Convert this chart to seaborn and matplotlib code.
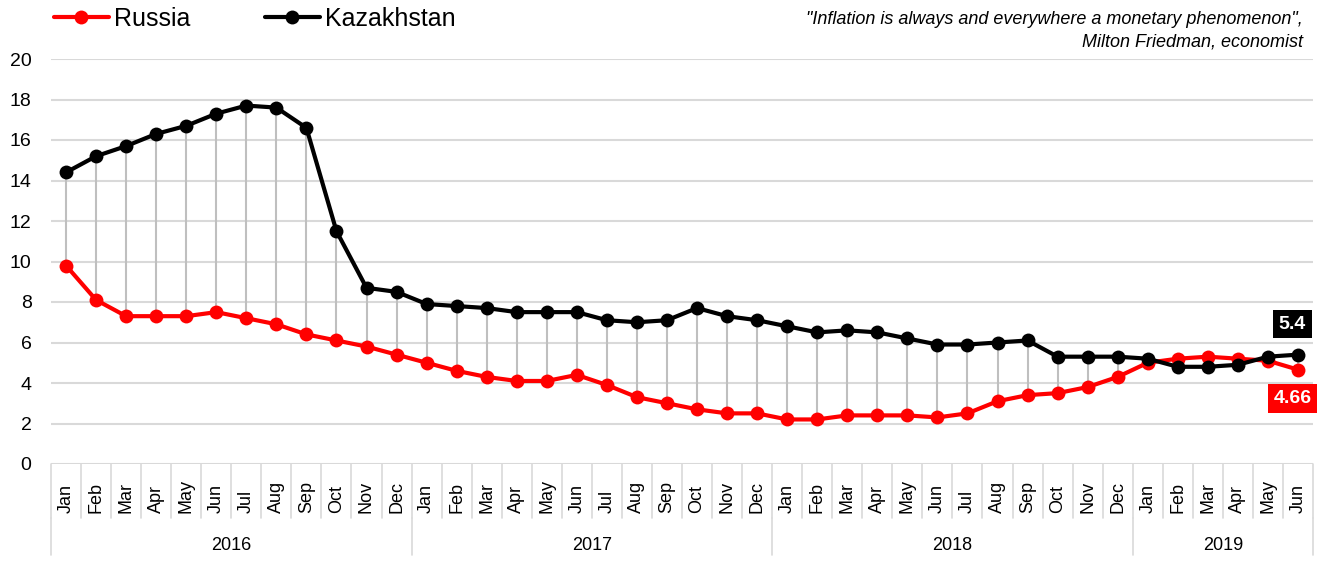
import numpy as np
import pandas as pd
import seaborn as sns
import matplotlib.pyplot as plt

# data
months = ["Jan", "Feb", "Mar", "Apr", "May", "Jun", "Jul", "Aug", "Sep", "Oct", "Nov", "Dec"]
years = ["2016", "2017", "2018", "2019"]
month_labels = months * 3 + months[:6]
year_lengths = [12, 12, 12, 6]

russia = [9.8, 8.1, 7.3, 7.3, 7.3, 7.5, 7.2, 6.9, 6.4, 6.1, 5.8, 5.4,
          5.0, 4.6, 4.3, 4.1, 4.1, 4.4, 3.9, 3.3, 3.0, 2.7, 2.5, 2.5,
          2.2, 2.2, 2.4, 2.4, 2.4, 2.3, 2.5, 3.1, 3.4, 3.5, 3.8, 4.3,
          5.0, 5.2, 5.3, 5.2, 5.1, 4.66]
kazakhstan = [14.4, 15.2, 15.7, 16.3, 16.7, 17.3, 17.7, 17.6, 16.6, 11.5, 8.7, 8.5,
              7.9, 7.8, 7.7, 7.5, 7.5, 7.5, 7.1, 7.0, 7.1, 7.7, 7.3, 7.1,
              6.8, 6.5, 6.6, 6.5, 6.2, 5.9, 5.9, 6.0, 6.1, 5.3, 5.3, 5.3,
              5.2, 4.8, 4.8, 4.9, 5.3, 5.4]

n = len(russia)
idx = np.arange(n)
df = pd.DataFrame({
    "i": np.concatenate([idx, idx]),
    "value": russia + kazakhstan,
    "country": ["Russia"] * n + ["Kazakhstan"] * n,
})

sns.set_style("white")
plt.rcParams["font.family"] = ["Liberation Sans", "DejaVu Sans"]
plt.rcParams["text.color"] = "black"
plt.rcParams["ytick.labelcolor"] = "black"

fig = plt.figure(figsize=(13.26, 5.63), dpi=100)
ax = fig.add_axes([51 / 1326, 1 - 464 / 563, (1313 - 51) / 1326, 405 / 563])

# high-low lines
ax.vlines(idx, np.minimum(russia, kazakhstan), np.maximum(russia, kazakhstan),
          color="#bfbfbf", lw=1.5, zorder=1)

sns.lineplot(data=df, x="i", y="value", hue="country",
             palette={"Russia": "#ff0000", "Kazakhstan": "#000000"},
             marker="o", markersize=10, markeredgewidth=0, lw=3,
             ax=ax, zorder=3, legend=True)

ax.set_xlim(-0.5, n - 0.5)
ax.set_ylim(0, 20)
ax.set_yticks(range(0, 21, 2))
ax.yaxis.grid(True, color="#d9d9d9", lw=1.5)
ax.set_axisbelow(True)
for s in ax.spines.values():
    s.set_visible(False)
ax.set_xlabel("")
ax.set_ylabel("")
ax.tick_params(axis="y", length=0, pad=14, labelsize=14, labelcolor="black")
ax.set_xticks(idx)
ax.set_xticklabels([])
ax.tick_params(axis="x", length=0)

# multi-level category axis
trans = ax.get_xaxis_transform()
sep_color = "#d9d9d9"
for i, m in zip(idx, month_labels):
    ax.text(i, -0.121, m, transform=trans, rotation=90, ha="center", va="bottom",
            fontsize=13, color="black")
for b in range(n + 1):
    ax.plot([b - 0.5, b - 0.5], [0, -0.133], transform=trans, color=sep_color,
            lw=1.2, clip_on=False)
start = 0
for y, L in zip(years, year_lengths):
    ax.plot([start - 0.5, start - 0.5], [-0.133, -0.225], transform=trans,
            color=sep_color, lw=1.2, clip_on=False)
    ax.text(start + L / 2 - 0.5, -0.2, y, transform=trans, ha="center",
            va="center", fontsize=13, color="black")
    start += L
ax.plot([n - 0.5, n - 0.5], [-0.133, -0.225], transform=trans,
        color=sep_color, lw=1.2, clip_on=False)

# legend
handles, labels = ax.get_legend_handles_labels()
leg = ax.legend(handles, labels, loc="center left", bbox_to_anchor=(41 / 1326, 1 - 19 / 563),
                bbox_transform=fig.transFigure, ncol=2, frameon=False, fontsize=18,
                handlelength=2.2, handletextpad=0.2, columnspacing=3.0, borderpad=0)
for t in leg.get_texts():
    t.set_color("black")

# end labels
ax.annotate("5.4", xy=(n - 1, kazakhstan[-1]), xytext=(-4, 22), textcoords="offset points",
            ha="center", va="center", color="white", fontsize=14, fontweight="bold",
            bbox=dict(boxstyle="square,pad=0.3", fc="black", ec="none"),
            annotation_clip=False, zorder=5)
ax.annotate("4.66", xy=(n - 1, russia[-1]), xytext=(-4, -21), textcoords="offset points",
            ha="center", va="center", color="white", fontsize=14, fontweight="bold",
            bbox=dict(boxstyle="square,pad=0.3", fc="#ff0000", ec="none"),
            annotation_clip=False, zorder=5)

fig.text(1303 / 1326, 1 - 31 / 563,
         "\"Inflation is always and everywhere a monetary phenomenon\",\nMilton Friedman, economist",
         ha="right", va="center", fontsize=13, style="italic", linespacing=1.4,
         color="black")

fig.savefig("out.png", dpi=100)
